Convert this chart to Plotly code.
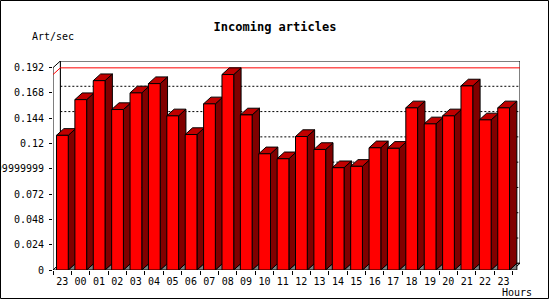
import plotly.graph_objects as go

# ---- data ----
hours = ["23", "00", "01", "02", "03", "04", "05", "06", "07", "08", "09", "10",
         "11", "12", "13", "14", "15", "16", "17", "18", "19", "20", "21", "22", "23"]
values = [0.1278, 0.1617, 0.1797, 0.1523, 0.1681, 0.1769, 0.1463, 0.1286, 0.1577,
          0.1855, 0.1472, 0.1103, 0.1056, 0.1267, 0.1144, 0.0971, 0.0984, 0.1160,
          0.1155, 0.1539, 0.1387, 0.1463, 0.1747, 0.1425, 0.1539]
ytick_vals = [0, 0.024, 0.048, 0.072, 0.096, 0.12, 0.144, 0.168, 0.192]
ytick_text = ["0", "0.024", "0.048", "0.072", "0.09599999999999999",
              "0.12", "0.144", "0.168", "0.192"]
title = "Incoming articles"
ylabel = "Art/sec"
xlabel = "Hours"

# ---- 3D geometry (style) ----
DX = 0.4        # depth in slot units
DY = 0.00635    # depth in value units
A, B = 0.19, 0.83
n = len(values)
ymax = ytick_vals[-1]
vmax = max(values)
FONT = "DejaVu Sans Mono"


def polys(shapes):
    xs, ys = [], []
    for pts in shapes:
        for (x, y) in pts + [pts[0]]:
            xs.append(x)
            ys.append(y)
        xs.append(None)
        ys.append(None)
    return xs, ys


def area(shapes, fill, name):
    xs, ys = polys(shapes)
    return go.Scatter(x=xs, y=ys, mode="lines", fill="toself", fillcolor=fill,
                      line=dict(color="black", width=1), hoverinfo="skip",
                      showlegend=False, name=name)


fig = go.Figure()

# walls and floor
fig.add_trace(area([[(DX, DY), (n + DX, DY), (n + DX, ymax + DY), (DX, ymax + DY)]], "white", "back"))
fig.add_trace(area([[(0, 0), (0, ymax), (DX, ymax + DY), (DX, DY)]], "white", "left"))
fig.add_trace(area([[(0, 0), (n, 0), (n + DX, DY), (DX, DY)]], "white", "floor"))

# dotted gridlines on back wall
gx, gy = [], []
for t in ytick_vals[1:-1]:
    gx += [DX, n + DX, None]
    gy += [t + DY, t + DY, None]
fig.add_trace(go.Scatter(x=gx, y=gy, mode="lines", line=dict(color="black", width=1, dash="2px,2px"),
                         hoverinfo="skip", showlegend=False))

# red max line
fig.add_trace(go.Scatter(x=[0, DX, n + DX], y=[vmax, vmax + DY, vmax + DY], mode="lines",
                         line=dict(color="#ff0000", width=1), hoverinfo="skip", showlegend=False))

shadows, sides, tops, fronts = [], [], [], []
for i, v in enumerate(values):
    x0, x1 = i + A, i + B
    shadows.append([(x1, 0), (x1 + DX, DY), (x1 + DX, 0)])
    sides.append([(x1, 0), (x1, v), (x1 + DX, v + DY), (x1 + DX, DY)])
    tops.append([(x0, v), (x1, v), (x1 + DX, v + DY), (x0 + DX, v + DY)])
    fronts.append([(x0, 0), (x1, 0), (x1, v), (x0, v)])

fig.add_trace(area(shadows, "#808080", "shadow"))
fig.add_trace(area(sides, "#800000", "side"))
fig.add_trace(area(tops, "#c00000", "top"))
fig.add_trace(area(fronts, "#ff0000", "front"))

L, R, T, Bm = 53, 30, 61, 30
W, H = 550, 300
pw, ph = W - L - R, H - T - Bm


def px_to_paper(xp, yp):
    return (xp - L) / pw, 1 - (yp - T) / ph


bx0, by0 = px_to_paper(0.5, 0.5)
bx1, by1 = px_to_paper(548.5, 298.5)

fig.update_layout(
    width=W, height=H,
    margin=dict(l=L, r=R, t=T, b=Bm, pad=0, autoexpand=False),
    paper_bgcolor="white", plot_bgcolor="white",
    font=dict(family=FONT, size=10, color="black"),
    title=dict(text="<b>" + title + "</b>", x=0.5, xref="container", xanchor="center",
               y=1 - 26.7 / H, yref="container", yanchor="middle",
               font=dict(family=FONT, size=12, color="black")),
    xaxis=dict(range=[0, n + DX], tickvals=[i + 0.5 for i in range(n)], ticktext=hours,
               ticks="", showline=False, showgrid=False, zeroline=False, fixedrange=True,
               automargin=False, ticklabelstandoff=4,
               tickfont=dict(family=FONT, size=10, color="black"),
               minor=dict(tickvals=list(range(n + 1)), ticks="outside", ticklen=4,
                          tickcolor="black", tickwidth=1, showgrid=False)),
    yaxis=dict(range=[0, ymax + DY], tickvals=ytick_vals, ticktext=ytick_text,
               ticks="outside", ticklen=3, tickcolor="black", tickwidth=1,
               showline=False, showgrid=False, zeroline=False, fixedrange=True,
               automargin=False, ticklabelstandoff=3,
               tickfont=dict(family=FONT, size=10, color="black")),
    shapes=[dict(type="rect", xref="paper", yref="paper", x0=bx0, y0=by0, x1=bx1, y1=by1,
                 line=dict(color="black", width=1), fillcolor="rgba(0,0,0,0)", layer="above")],
    annotations=[
        dict(text=ylabel, xref="paper", yref="paper", x=0, y=1, xanchor="left", yanchor="middle",
             xshift=30 - L, yshift=T - 36.7, showarrow=False,
             font=dict(family=FONT, size=10, color="black")),
        dict(text=xlabel, xref="paper", yref="paper", x=1, y=0, xanchor="right", yanchor="middle",
             xshift=534 - (W - R), yshift=-(292.3 - (H - Bm)), showarrow=False,
             font=dict(family=FONT, size=10, color="black")),
    ],
)

fig.write_html("out.html")
